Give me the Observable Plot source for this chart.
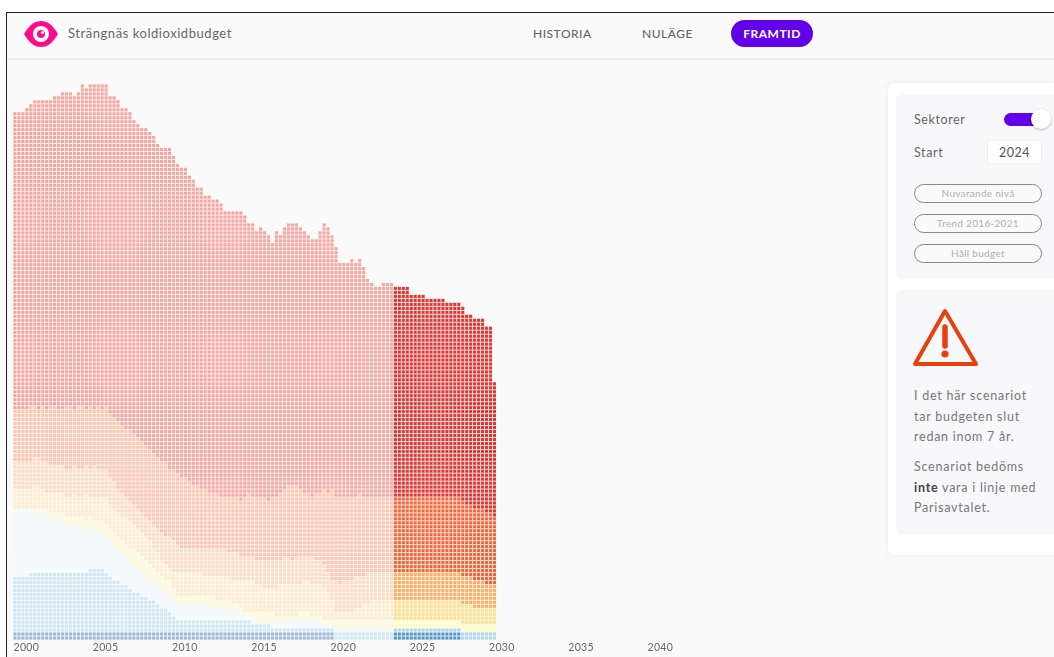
<!DOCTYPE html>
<html lang="sv">
<head>
<meta charset="utf-8">
<title>Strängnäs koldioxidbudget</title>
<script src="https://cdn.jsdelivr.net/npm/d3@7"></script>
<script src="https://cdn.jsdelivr.net/npm/@observablehq/plot@0.6"></script>
<style>
html,body{margin:0;padding:0;background:#fff;width:1054px;height:657px;overflow:hidden}
body{font-family:"Lato","Open Sans",sans-serif;color:#777}
#frame{position:absolute;left:6px;top:12px;width:1048px;height:645px;background:#fafafa;border-top:1px solid #222;border-left:1px solid #222;box-sizing:border-box}
#head{position:absolute;left:7px;top:13px;width:1047px;height:45px;border-bottom:2px solid #ececec}
.a{position:absolute;white-space:nowrap}
#chart{position:absolute;left:0;top:60px}
#chart svg{display:block;background:transparent;filter:blur(.5px)}
#card{position:absolute;left:888px;top:83px;width:166px;height:472px;background:#fff;border-radius:6px 0 0 6px;box-shadow:0 0 6px rgba(0,0,0,.08)}
.sub{position:absolute;left:896px;width:158px;background:#f8f8fb;border-radius:6px 0 0 6px}
.btn{position:absolute;left:914px;width:128px;height:19px;box-sizing:border-box;border:1.5px solid #8a8a8a;border-radius:10px;background:#fafafa;color:#b0b0b0;font:10px/16px "Lato",sans-serif;letter-spacing:.3px;text-align:center}
.txt{font:12.5px/20.5px "Lato",sans-serif;letter-spacing:.75px;color:#777;left:914px}
</style>
</head>
<body>
<div id="frame"></div>
<div id="head"></div>
<svg class="a" style="left:23px;top:20px" width="36" height="28" viewBox="0 0 36 28"><path d="M1 14 C7 4 12 1 18 1 C24 1 29 4 35 14 C29 24 24 27 18 27 C12 27 7 24 1 14Z" fill="#ff0a8c"/><circle cx="18" cy="14" r="8" fill="#fff"/><circle cx="18" cy="14" r="4" fill="#ff0a8c"/><circle cx="19.5" cy="12.5" r="1.6" fill="#fff"/></svg>
<div class="a" style="left:68px;top:25px;font:13px/16px 'Lato',sans-serif;letter-spacing:.55px;color:#666">Strängnäs koldioxidbudget</div>
<div class="a" style="left:533px;top:26px;font:500 12px/15px 'Lato',sans-serif;letter-spacing:.5px;color:#666">HISTORIA</div>
<div class="a" style="left:642px;top:26px;font:500 12px/15px 'Lato',sans-serif;letter-spacing:.5px;color:#666">NULÄGE</div>
<div class="a" style="left:731px;top:20px;width:82px;height:27px;border-radius:14px;background:#6200ea;color:#fff;font:bold 12px/27px 'Lato',sans-serif;letter-spacing:.5px;text-align:center">FRAMTID</div>
<div id="chart"></div>
<div id="card"></div>
<div class="sub" style="top:94px;height:185px"></div>
<div class="sub" style="top:290px;height:244px"></div>
<div class="a" style="left:914px;top:112px;font:12.5px/16px 'Lato',sans-serif;letter-spacing:.6px;color:#666">Sektorer</div>
<div class="a" style="left:1004px;top:113px;width:38px;height:13px;border-radius:7px;background:#6200ea"></div>
<div class="a" style="left:1031px;top:109px;width:20px;height:20px;border-radius:50%;background:#fff;box-shadow:0 1px 3px rgba(0,0,0,.25)"></div>
<div class="a" style="left:914px;top:145px;font:12.5px/16px 'Lato',sans-serif;letter-spacing:.6px;color:#666">Start</div>
<div class="a" style="left:987px;top:140px;width:55px;height:24px;background:#fff;border:1px solid #eee;border-radius:3px;box-sizing:border-box;font:12.5px/23px 'Lato',sans-serif;letter-spacing:.5px;color:#555;text-align:center">2024</div>
<div class="btn" style="top:184px">Nuvarande nivå</div>
<div class="btn" style="top:214px">Trend 2016-2021</div>
<div class="btn" style="top:244px">Håll budget</div>
<svg class="a" style="left:912px;top:307px" width="68" height="62" viewBox="0 0 68 62"><path d="M33 4 L64 57 L3 57 Z" fill="none" stroke="#e8400c" stroke-width="4" stroke-linejoin="round"/><path d="M33 20 V39" stroke="#e8400c" stroke-width="5.5" stroke-linecap="round"/><circle cx="33" cy="47" r="3.6" fill="#e8400c"/></svg>
<div class="a txt" style="top:386px">I det här scenariot<br>tar budgeten slut<br>redan inom 7 år.</div>
<div class="a txt" style="top:457px">Scenariot bedöms<br><b style="color:#444">inte</b> vara i linje med<br>Parisavtalet.</div>
<script>
const years = [2000,2005,2010,2015,2020,2025,2030,2035,2040];
const startYear = 2024;
const bandNames = ["Blå","Ljusblå","Blekblå","Blekgul","Gul","Orange","Persika","Röd"];
const colours = ["#5598c8","#b0d9ec","#e6f4fa","#ffffbf","#fee08b","#fdae61","#f4673a","#de3a36"];
const historyColours = ["#a0b8d8","#d2e8f4","#f2fafd","#fffbd8","#ffedcc","#ffdcc0","#ffc4ae","#f4a6a0"];

// Övre gräns per kolumn (rader från botten), en kolumn per kvartal
const top0 = [133,133,133,134,135,136,136,136,136,136,137,137,138,138,138,137,138,140,139,140,140,140,140,140,137,137,136,134,134,133,131,130,129,129,128,127,125,124,124,124,122,120,119,119,117,116,114,114,112,112,111,111,110,108,108,108,108,108,107,105,105,103,104,103,102,100,103,102,104,105,105,105,104,103,102,101,101,103,105,104,102,99,95,95,95,96,95,96,94,91,90,89,89,90,90,90,89,89,89,89,87,87,87,87,86,86,86,86,86,85,85,85,85,84,82,82,81,81,81,79,79,65];
const redEdge = [58,58,58,58,59,59,58,59,58,59,59,58,58,59,59,58,59,59,58,59,58,59,58,59,57,56,55,54,53,53,52,51,50,49,48,47,46,45,45,43,43,42,41,41,40,39,39,38,38,37,37,37,36,36,36,36,36,35,36,37,36,36,36,36,35,36,36,37,38,39,39,39,38,37,37,36,37,37,38,37,38,36,36,36,36,36,36,37,36,36,36,36,36,36,36,36,36,36,36,36,36,36,36,36,36,36,36,36,36,36,36,36,36,35,34,34,33,33,33,32,32,31];
const peachEdge = [45,45,45,45,45,46,46,45,45,44,44,44,44,43,43,44,43,43,44,43,44,43,43,43,41,40,38,37,36,35,34,33,32,31,30,29,28,27,26,26,25,24,23,23,23,23,23,23,23,23,23,23,23,23,22,22,22,21,21,21,21,20,20,20,20,20,20,20,21,21,20,21,21,21,21,21,20,20,19,17,15,15,14,15,15,15,16,16,16,17,17,17,17,17,17,17,17,17,17,17,17,17,17,17,17,17,17,17,17,17,17,17,17,16,16,16,15,15,15,14,14,14];
const orangeEdge = [38,38,38,38,38,39,39,38,37,37,37,37,37,36,36,37,36,36,37,36,36,36,36,36,34,33,32,31,31,30,29,28,27,26,25,23,22,20,19,18,17,17,17,17,17,17,17,17,16,16,16,16,16,16,16,15,15,15,15,15,15,14,14,13,13,13,13,14,14,14,14,14,14,15,15,14,14,14,13,12,10,7,7,7,7,7,8,8,9,9,10,10,10,10,10,10,10,10,10,10,10,10,10,10,10,10,10,10,10,10,10,10,10,9,9,9,8,8,8,8,8,8];
const yellowEdge = [33,33,33,33,33,33,33,33,33,32,32,32,32,31,31,31,31,31,30,31,30,30,30,29,28,27,26,25,24,23,23,22,21,20,19,18,17,16,15,15,13,11,11,11,11,11,11,11,11,11,11,10,10,10,10,9,9,8,7,7,7,7,7,7,7,7,6,6,6,6,6,6,7,7,7,6,6,6,5,5,5,5,5,5,5,5,5,5,5,5,5,5,5,5,5,5,5,5,5,5,5,5,5,5,5,5,5,5,5,5,5,5,5,4,4,4,4,4,4,4,4,4];
const paleYellowEdge = [33,33,33,33,33,33,33,32,31,31,31,30,30,29,29,29,28,28,28,28,28,27,27,26,25,24,23,22,21,20,19,18,17,16,15,14,14,13,12,11,10,9,9,9,9,9,9,9,9,8,8,8,8,8,8,7,7,7,6,6,6,6,4,4,4,4,4,5,5,5,5,5,5,5,5,5,5,5,4,4,3,3,3,3,3,3,3,3,3,3,3,3,3,3,3,3,3,3,3,3,3,3,3,3,3,3,3,3,3,3,3,3,3,2,2,2,2,2,2,2,2,2];
const paleBlueEdge = [16,16,16,16,17,17,17,17,17,17,17,17,17,17,17,17,17,17,17,18,18,18,18,17,16,15,15,14,14,13,12,12,11,11,10,10,9,8,8,7,6,5,5,5,5,5,5,5,5,5,5,5,5,5,5,5,5,5,5,5,4,4,4,4,4,3,3,3,3,3,3,3,3,3,3,3,3,3,3,3,3,2,2,2,2,2,2,2,2,2,2,2,2,2,2,2,3,3,3,3,3,3,3,3,3,3,3,3,3,3,3,3,3,2,2,2,2,2,2,2,2,2];
const lightBlueEdge = [2,2,2,2,2,2,2,2,2,2,2,2,2,2,2,2,2,2,2,2,2,2,2,2,2,2,2,2,2,2,2,2,2,2,2,2,2,2,2,2,2,2,2,2,2,2,2,2,2,2,2,2,2,2,2,2,2,2,2,2,2,2,2,2,2,2,2,2,2,2,2,2,2,2,2,2,2,2,2,2,2,0,0,0,0,0,0,0,0,0,0,0,0,0,0,0,2,2,2,2,2,2,2,2,2,2,2,2,2,2,2,2,2,0,0,0,0,0,0,0,0,0];

const edges = [lightBlueEdge,paleBlueEdge,paleYellowEdge,yellowEdge,orangeEdge,peachEdge,redEdge];
const cells = [];
top0.forEach((t,c)=>{
  for(let r=0;r<t;r++){
    let b=0;
    while(b<edges.length && r>=edges[b][c]) b++;
    cells.push({x1:2000+c/4,x2:2000+(c+1)/4,y1:r,y2:r+1,band:bandNames[b],future:2000+c/4>=startYear});
  }
});
const cellPlot = (rows,range)=>Plot.rect(rows,{x1:"x1",x2:"x2",y1:"y1",y2:"y2",inset:.4,fill:d=>range[bandNames.indexOf(d.band)]});
const plot = Plot.plot({
  width:1054,height:597,
  marginLeft:0,marginRight:0,marginTop:0,marginBottom:17,
  x:{domain:[2000,2040],range:[13,647]},
  y:{domain:[0,140],range:[580,24],axis:null},
  marks:[
    cellPlot(cells.filter(d=>!d.future),historyColours),
    cellPlot(cells.filter(d=>d.future),colours),
    Plot.axisX({ticks:years,tickSize:0,tickPadding:3,tickFormat:d=>String(d),textAnchor:"start",label:null,fontSize:10.5,fill:"#666"})
  ]
});
plot.style.fontFamily="Lato,sans-serif";
plot.style.letterSpacing=".3px";
document.getElementById("chart").append(plot);
</script>
</body>
</html>
